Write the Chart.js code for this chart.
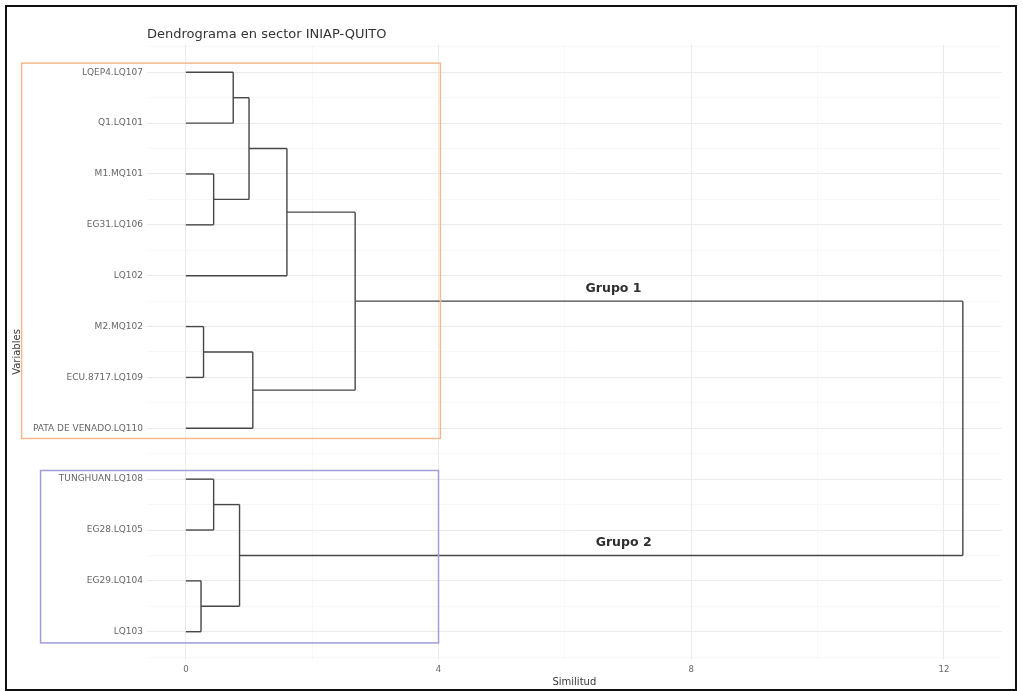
<!DOCTYPE html>
<html>
<head>
<meta charset="utf-8">
<title>Dendrograma en sector INIAP-QUITO</title>
<script src="https://cdn.jsdelivr.net/npm/chart.js@4/dist/chart.umd.min.js"></script>
<style>
  html, body { margin: 0; padding: 0; background: #ffffff; }
  #wrap { position: relative; width: 1023px; height: 691px; }
  canvas { display: block; }
</style>
</head>
<body>
<div id="wrap"><canvas id="dendro" width="1023" height="691"></canvas></div>
<script>
// Leaves, top to bottom
const leafLabels = [
  'LQEP4.LQ107', 'Q1.LQ101', 'M1.MQ101', 'EG31.LQ106', 'LQ102',
  'M2.MQ102', 'ECU.8717.LQ109', 'PATA DE VENADO.LQ110',
  'TUNGHUAN.LQ108', 'EG28.LQ105', 'EG29.LQ104', 'LQ103'
];

// Merge table (hclust style): negative = leaf number, positive = earlier merge step
const mergeLeft   = [-11, -6, -3, -9, -1, 4, 5, 2, 7, 9, 10];
const mergeRight  = [-12, -7, -4, -10, -2, 1, 3, -8, -5, 8, 6];
const mergeHeight = [0.24, 0.28, 0.44, 0.44, 0.75, 0.85, 1.00, 1.06, 1.60, 2.68, 12.30];

// Axis ticks
const xTickValues = [0, 2, 4, 6, 8, 10, 12];
const xTickLabels = ['0', '', '4', '', '8', '', '12'];
const yTickValues = [0.5, 1, 1.5, 2, 2.5, 3, 3.5, 4, 4.5, 5, 5.5, 6, 6.5, 7, 7.5, 8, 8.5, 9, 9.5, 10, 10.5, 11, 11.5, 12, 12.5];

// Group annotations
const groupNames = ['Grupo 1', 'Grupo 2'];
const groupLabelX = [6.77, 6.93];
const groupLabelY = [5.5, 10.5];
const groupBoxX0 = [-2.6, -2.3];
const groupBoxX1 = [4.03, 4.0];
const groupBoxY0 = [0.82, 8.83];
const groupBoxY1 = [8.2, 12.22];
const groupBoxColors = ['#f3b98e', '#9e9ed8'];

// Build the dendrogram segments from the merge table
const nodePos = [];     // vertical position of each merge node
const nodeHeight = [];  // similarity height of each merge node
function childInfo(id) {
  if (id < 0) return { pos: -id, h: 0 };
  return { pos: nodePos[id - 1], h: nodeHeight[id - 1] };
}
const segments = [];
for (let i = 0; i < mergeHeight.length; i++) {
  const a = childInfo(mergeLeft[i]);
  const b = childInfo(mergeRight[i]);
  const h = mergeHeight[i];
  nodePos.push((a.pos + b.pos) / 2);
  nodeHeight.push(h);
  segments.push([{ x: a.h, y: a.pos }, { x: h, y: a.pos }]);
  segments.push([{ x: b.h, y: b.pos }, { x: h, y: b.pos }]);
  segments.push([{ x: h, y: a.pos }, { x: h, y: b.pos }]);
}

const datasets = segments.map(seg => ({
  data: seg,
  showLine: true,
  borderColor: '#474747',
  borderWidth: 1.4,
  pointRadius: 0,
  pointHoverRadius: 0,
  fill: false,
  clip: false
}));

const FONT = 'DejaVu Sans';

const decorations = {
  id: 'decorations',
  afterDraw(chart) {
    const ctx = chart.ctx;
    const xs = chart.scales.x, ys = chart.scales.y;
    const area = chart.chartArea;
    ctx.save();

    // Group boxes
    for (let i = 0; i < groupNames.length; i++) {
      const x0 = xs.getPixelForValue(groupBoxX0[i]);
      const x1 = xs.getPixelForValue(groupBoxX1[i]);
      const y0 = ys.getPixelForValue(groupBoxY0[i]);
      const y1 = ys.getPixelForValue(groupBoxY1[i]);
      ctx.strokeStyle = groupBoxColors[i];
      ctx.lineWidth = 1.5;
      ctx.strokeRect(x0, y0, x1 - x0, y1 - y0);
    }

    // Group labels, just above their branch
    ctx.fillStyle = '#2e2e2e';
    ctx.font = 'bold 12.5px "' + FONT + '"';
    ctx.textAlign = 'center';
    ctx.textBaseline = 'alphabetic';
    for (let i = 0; i < groupNames.length; i++) {
      ctx.fillText(groupNames[i], xs.getPixelForValue(groupLabelX[i]), ys.getPixelForValue(groupLabelY[i]) - 9);
    }

    // Title
    ctx.fillStyle = '#333333';
    ctx.font = '13px "' + FONT + '"';
    ctx.textAlign = 'left';
    ctx.fillText('Dendrograma en sector INIAP-QUITO', area.left, 37.5);

    // Axis titles
    ctx.fillStyle = '#3a3a3a';
    ctx.font = '10px "' + FONT + '"';
    ctx.textAlign = 'center';
    ctx.textBaseline = 'middle';
    ctx.fillText('Similitud', (area.left + area.right) / 2, 682);
    ctx.save();
    ctx.translate(17, (area.top + area.bottom) / 2);
    ctx.rotate(-Math.PI / 2);
    ctx.fillText('Variables', 0, 0);
    ctx.restore();

    // Outer frame
    ctx.strokeStyle = '#111111';
    ctx.lineWidth = 2;
    ctx.strokeRect(6, 6, 1010, 684);
    ctx.restore();
  }
};

new Chart(document.getElementById('dendro'), {
  type: 'scatter',
  data: { datasets },
  options: {
    responsive: false,
    animation: false,
    devicePixelRatio: 1,
    layout: { padding: { top: 44.3, right: 21.3, bottom: 0, left: 0 } },
    plugins: { legend: { display: false }, tooltip: { enabled: false }, title: { display: false } },
    scales: {
      x: {
        type: 'linear',
        min: -0.615,
        max: 12.915,
        afterBuildTicks(scale) { scale.ticks = xTickValues.map(v => ({ value: v })); },
        afterFit(scale) { scale.height = 31.3; },
        ticks: {
          autoSkip: false,
          maxRotation: 0,
          padding: 5,
          color: '#666666',
          font: { family: FONT, size: 8.5 },
          callback(v) { const i = xTickValues.indexOf(v); return i >= 0 ? xTickLabels[i] : ''; }
        },
        grid: {
          drawTicks: false,
          color: ctx => (ctx.tick && ctx.tick.value % 4 === 0) ? '#ebebeb' : '#f3f3f3',
          lineWidth: ctx => (ctx.tick && ctx.tick.value % 4 === 0) ? 1 : 0.6
        },
        border: { display: false }
      },
      y: {
        type: 'linear',
        reverse: true,
        min: 0.45,
        max: 12.55,
        afterBuildTicks(scale) { scale.ticks = yTickValues.map(v => ({ value: v })); },
        afterFit(scale) { scale.width = 147; },
        ticks: {
          autoSkip: false,
          padding: 4,
          color: '#666666',
          font: { family: FONT, size: 9 },
          callback(v) { return Number.isInteger(v) && v >= 1 && v <= leafLabels.length ? leafLabels[v - 1] : ''; }
        },
        grid: {
          drawTicks: false,
          color: ctx => (ctx.tick && Number.isInteger(ctx.tick.value)) ? '#ebebeb' : '#f3f3f3',
          lineWidth: ctx => (ctx.tick && Number.isInteger(ctx.tick.value)) ? 1 : 0.6
        },
        border: { display: false }
      }
    }
  },
  plugins: [decorations]
});
</script>
</body>
</html>
